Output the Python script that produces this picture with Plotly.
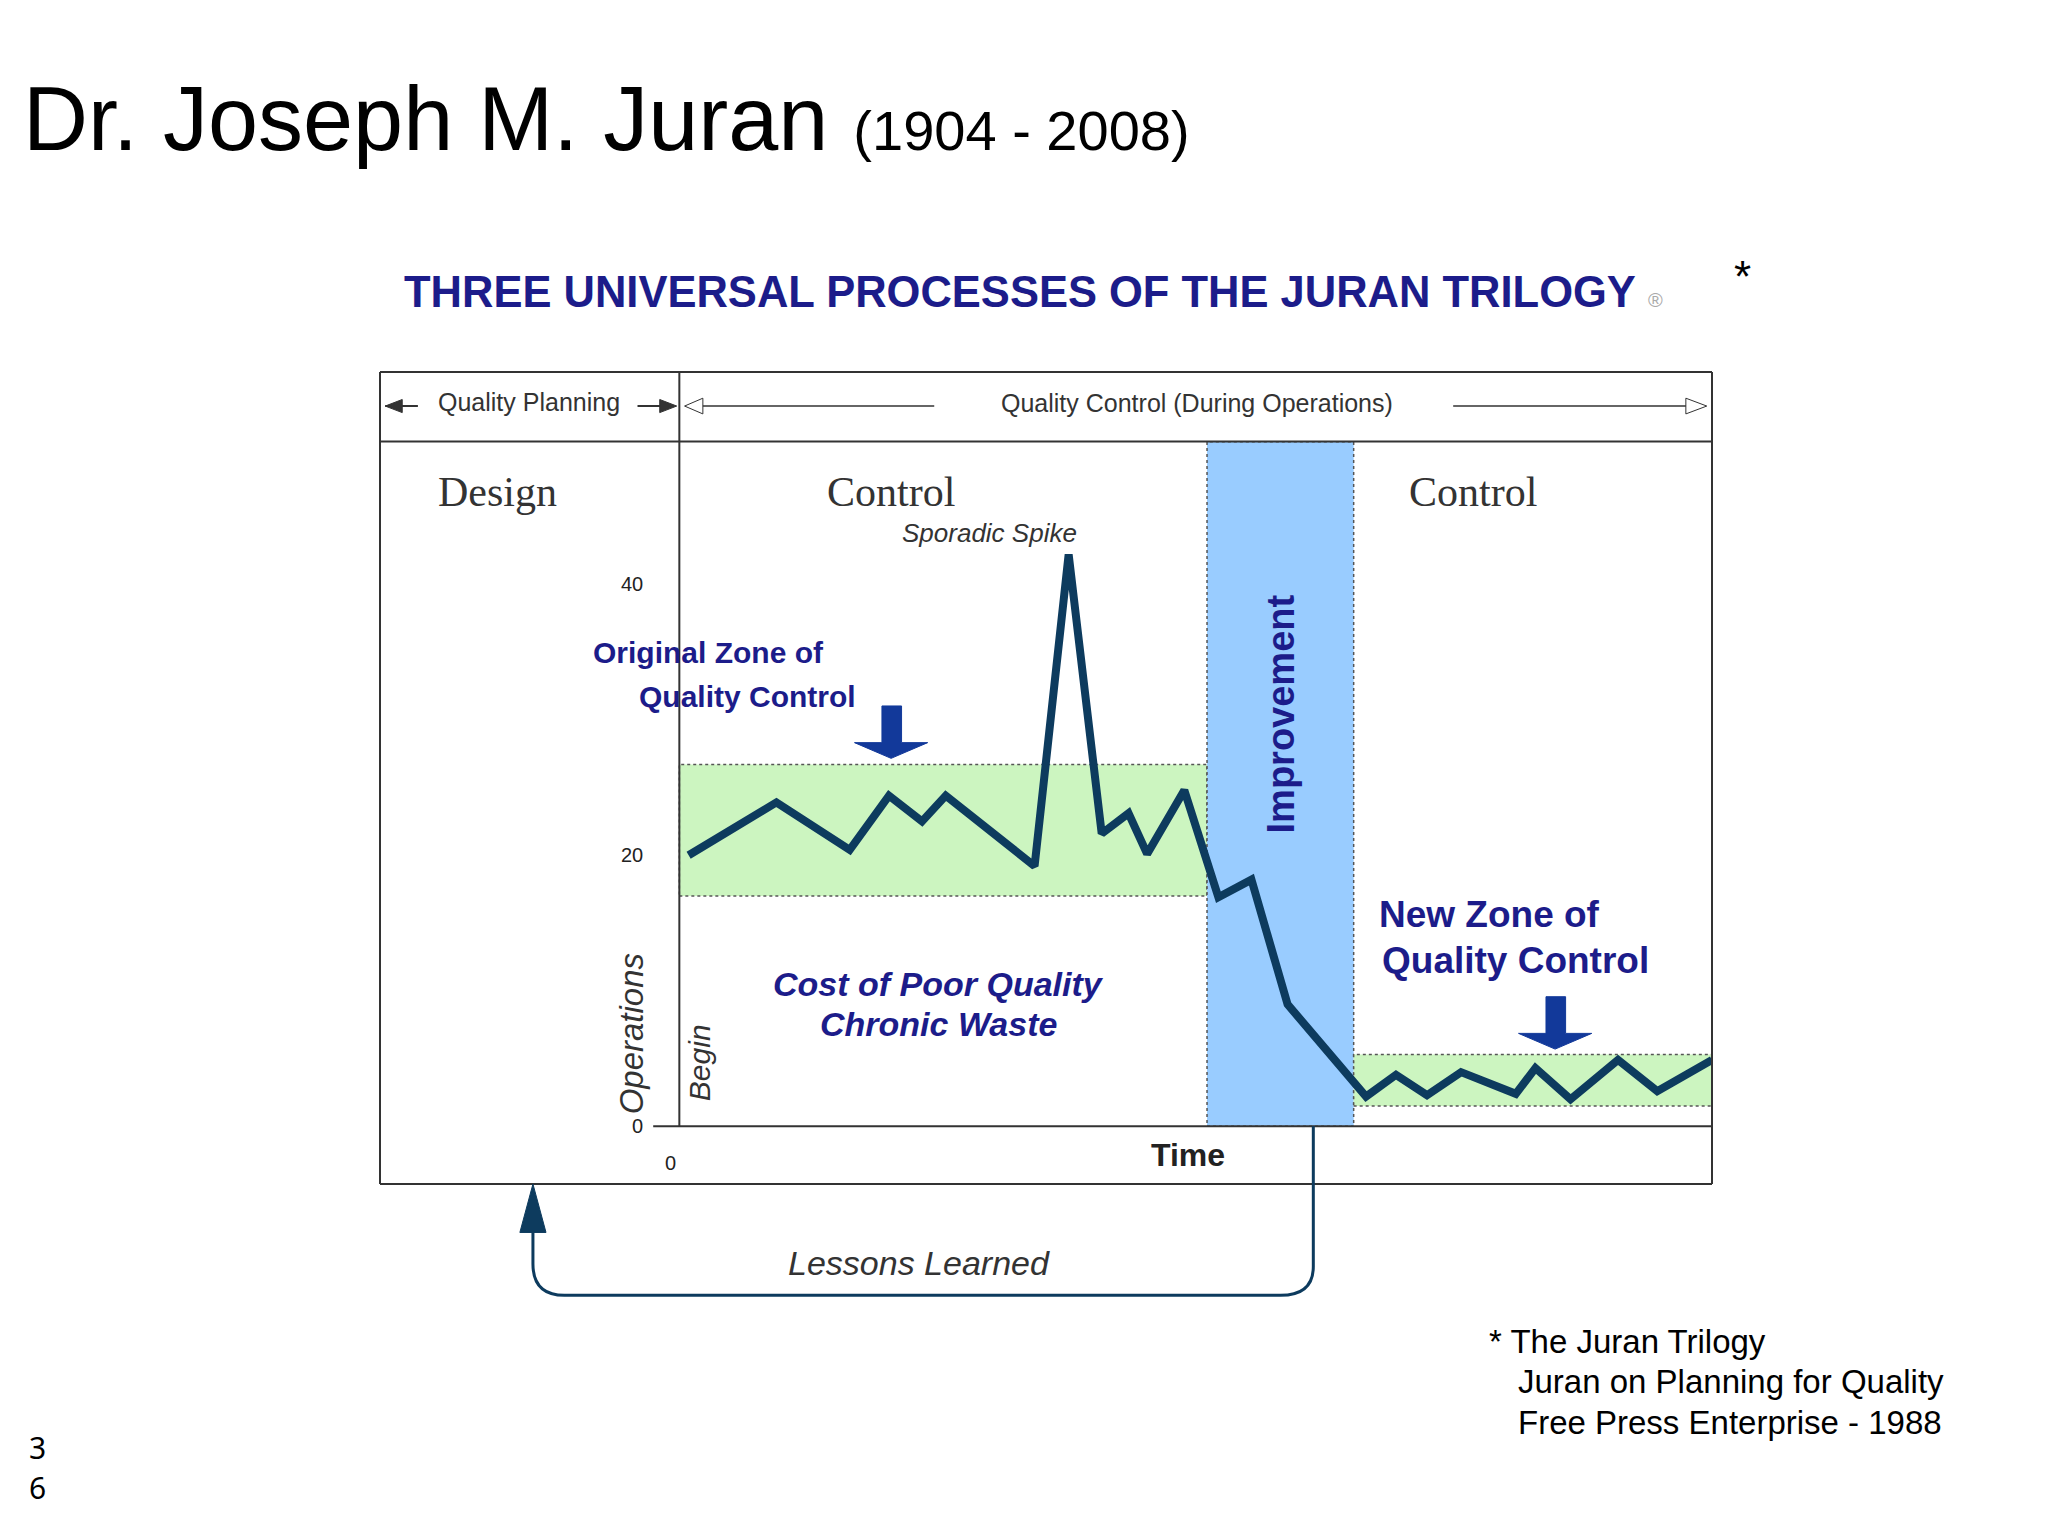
import plotly.graph_objects as go

# ---- data (time units 0-100, value units) ----
time = [0.9, 9.4, 16.5, 20.3, 23.5, 25.8, 34.4, 37.7, 40.9, 43.5, 45.3, 48.9, 52.2, 55.4,
        58.9, 66.5, 69.4, 72.4, 75.7, 81.0, 82.9, 86.3, 90.9, 94.7, 100]
value = [20.0, 23.9, 20.4, 24.4, 22.5, 24.4, 19.2, 42.2, 21.6, 23.1, 20.1, 24.8, 16.9, 18.2,
         9.0, 2.2, 3.8, 2.3, 4.0, 2.4, 4.3, 2.0, 4.9, 2.6, 4.9]
orig_zone = [0, 51.1, 17.0, 26.7]
improve_zone = [51.1, 65.3, 0, 50.5]
new_zone = [65.3, 100, 1.5, 5.3]
y_ticks = [0, 20, 40]

def T(xd): return (xd - 520) / 7.9
def V(yd): return (861 - yd) / 10.35
def PX(xd): return (xd - 291) / 1019
def PY(yd): return (905 - yd) / 620

NAVY = "#0d3b5e"
DB = "#1c1c8a"
fig = go.Figure()
shapes = []
def rect(z, fill):
    shapes.append(dict(type="rect", x0=z[0], x1=z[1], y0=z[2], y1=z[3], fillcolor=fill,
                       line=dict(color="#555", width=1.5, dash="dot"), layer="below"))
rect(orig_zone, "#ccf5c0")
rect(improve_zone, "#99ccff")
rect(new_zone, "#ccf5c0")
def line(x0, y0, x1, y1, w=2, c="#333"):
    shapes.append(dict(type="line", xref="paper", yref="paper", x0=PX(x0), y0=PY(y0),
                       x1=PX(x1), y1=PY(y1), line=dict(color=c, width=w)))
line(291, 285, 1310, 285); line(291, 905, 1310, 905)
line(291, 285, 291, 905); line(1310, 285, 1310, 905)
line(291, 338, 1310, 338)
line(520, 285, 520, 861)
line(500, 861, 1310, 861)
# header arrows
line(295, 311, 320, 311); line(488, 311, 515, 311)
line(525, 311, 715, 311, 1.5); line(1112, 311, 1300, 311, 1.5)
def tri(pts, fill):
    p = "M " + " L ".join(f"{PX(a)},{PY(b)}" for a, b in pts) + " Z"
    shapes.append(dict(type="path", xref="paper", yref="paper", path=p, fillcolor=fill,
                       line=dict(color=fill if fill != "white" else "#333", width=1)))
tri([(295, 311), (308, 306), (308, 316)], "#333")
tri([(518, 311), (505, 306), (505, 316)], "#333")
tri([(524, 311), (538, 305), (538, 317)], "white")
tri([(1306, 311), (1290, 305), (1290, 317)], "white")
# block arrows
tri([(675, 540), (690, 540), (690, 568), (710, 568), (682, 580), (654, 568), (675, 568)], "#12399a")
tri([(1183, 762), (1198, 762), (1198, 790), (1218, 790), (1190, 802), (1162, 790), (1183, 790)], "#12399a")
# lessons learned loop
p = (f"M {PX(1005)},{PY(861)} L {PX(1005)},{PY(968)} Q {PX(1005)},{PY(990)} {PX(980)},{PY(990)} "
     f"L {PX(432)},{PY(990)} Q {PX(408)},{PY(990)} {PX(408)},{PY(966)} L {PX(408)},{PY(935)}")
shapes.append(dict(type="path", xref="paper", yref="paper", path=p, line=dict(color=NAVY, width=3)))
tri([(408, 905), (398, 942), (418, 942)], NAVY)

fig.add_trace(go.Scatter(x=time, y=value, mode="lines", line=dict(color=NAVY, width=8),
                         hoverinfo="skip", showlegend=False, cliponaxis=False))

ann = []
def A(xd, yd, text, size, color="#222", family="Arial", anchor="center", angle=0):
    ann.append(dict(xref="paper", yref="paper", x=PX(xd), y=PY(yd), text=text, showarrow=False,
                    xanchor=anchor, yanchor="middle", textangle=angle,
                    font=dict(size=size, color=color, family=family)))
A(16, 92, "Dr. Joseph M. Juran <span style='font-size:56px'>(1904 - 2008)</span>", 90, "#000", anchor="left")
A(308, 224, "<b>THREE UNIVERSAL PROCESSES OF THE JURAN TRILOGY</b> <span style='font-size:20px;color:#aaa'>®</span>", 43.5, DB, anchor="left")
A(1333, 212, "*", 44, "#000")
A(405, 308, "Quality Planning", 25, "#333")
A(916, 309, "Quality Control (During Operations)", 25, "#333")
A(381, 377, "Design", 42, "#333", "Liberation Serif")
A(682, 377, "Control", 42, "#333", "Liberation Serif")
A(1127, 377, "Control", 42, "#333", "Liberation Serif")
A(757, 408, "<i>Sporadic Spike</i>", 26, "#333")
for v in y_ticks:
    A(494, 861 - v * 10.35, str(v), 20, "#222", anchor="right")
A(513, 889, "0", 20)
A(542, 499, "<b>Original Zone of</b>", 30, DB)
A(572, 533, "<b>Quality Control</b>", 30, DB)
A(1140, 699, "<b>New Zone of</b>", 37, DB)
A(1160, 734, "<b>Quality Control</b>", 37, DB)
A(718, 752, "<b><i>Cost of Poor Quality</i></b>", 34, DB)
A(718, 783, "<b><i>Chronic Waste</i></b>", 34, DB)
A(980, 546, "<b>Improvement</b>", 38, DB, angle=-90)
A(483, 790, "<i>Operations</i>", 33, "#333", angle=-90)
A(535, 812, "<i>Begin</i>", 30, "#333", angle=-90)
A(909, 883, "<b>Time</b>", 32, "#222")
A(703, 965, "<i>Lessons Learned</i>", 34, "#333")
A(1138, 1025, "* The Juran Trilogy", 33, "#000", anchor="left")
A(1160, 1056, "Juran on Planning for Quality", 33, "#000", anchor="left")
A(1160, 1087, "Free Press Enterprise - 1988", 33, "#000", anchor="left")
A(29, 1106, "3", 30, "#000", "Noto Sans")
A(29, 1137, "6", 30, "#000", "Noto Sans")

fig.update_layout(width=2048, height=1536, margin=dict(l=372, r=344, t=364, b=360),
                  plot_bgcolor="white", paper_bgcolor="white", shapes=shapes, annotations=ann,
                  xaxis=dict(range=[T(291), T(1310)], visible=False),
                  yaxis=dict(range=[V(905), V(285)], visible=False))
fig.write_html("out.html")
